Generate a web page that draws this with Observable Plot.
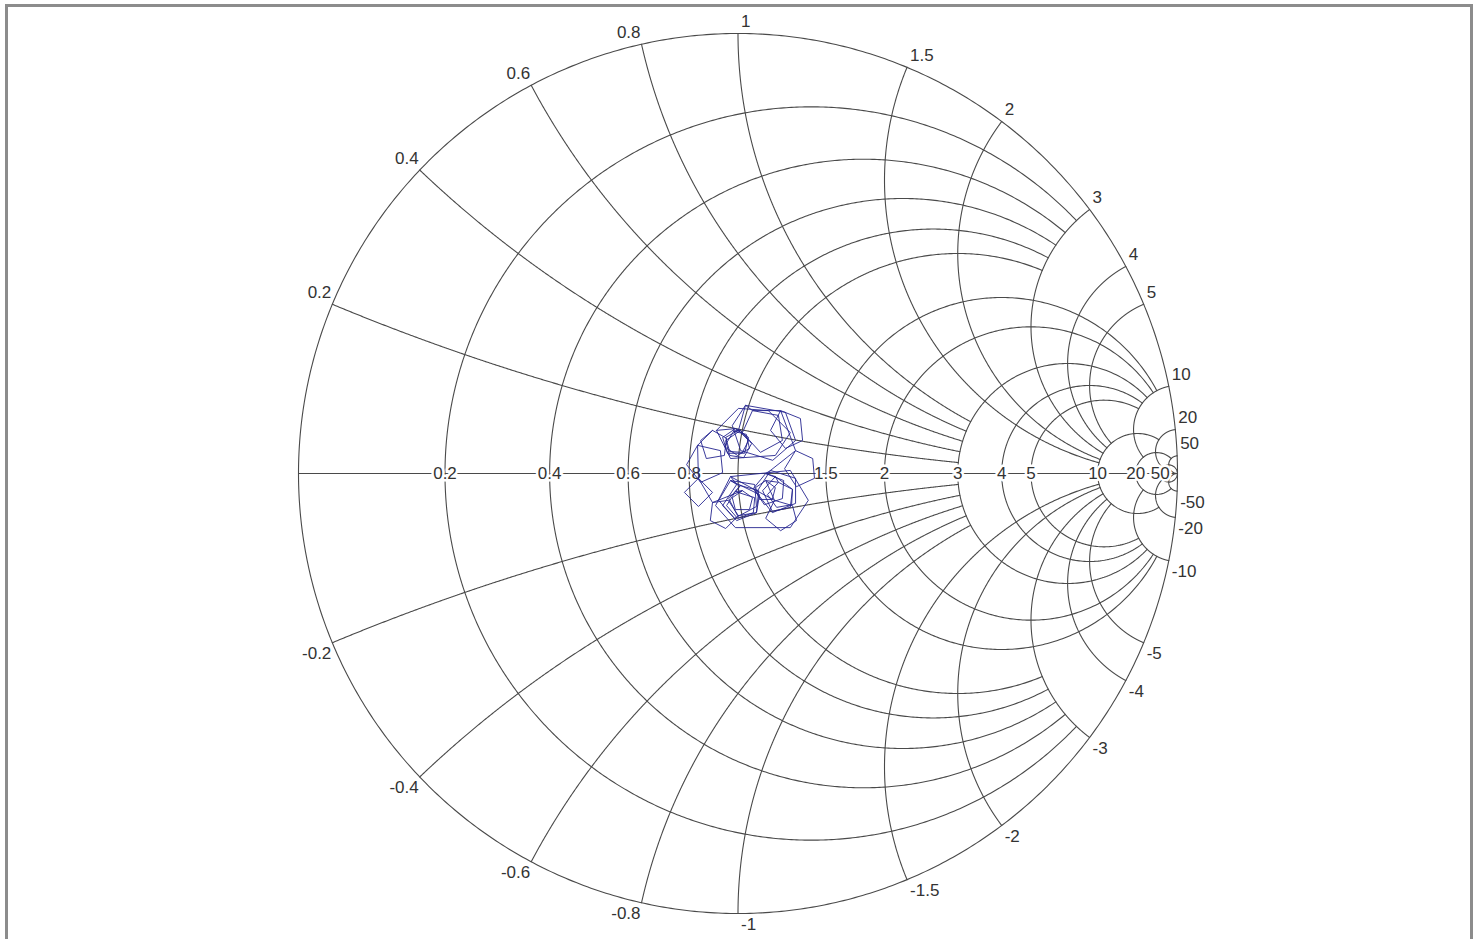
<!DOCTYPE html>
<html><head><meta charset="utf-8">
<script src="https://cdn.jsdelivr.net/npm/d3@7"></script>
<script src="https://cdn.jsdelivr.net/npm/@observablehq/plot@0.6"></script>
<style>
html,body{margin:0;padding:0;background:#fff;}
#wrap{position:relative;width:1479px;height:939px;overflow:hidden;background:#fff;}
#chart{position:absolute;left:0;top:0;}
#frame{position:absolute;left:5px;top:4px;width:1468px;height:1100px;border:3px solid #8c8c8c;box-sizing:border-box;pointer-events:none;}
</style></head><body><div id="wrap"><div id="chart"></div><div id="frame"></div></div>
<script>
// Grid values (normalized resistance / reactance) and where each circle/arc ends
const gridValues = [0.2, 0.4, 0.6, 0.8, 1, 1.5, 2, 3, 4, 5, 10, 20, 50];
const gridEnds   = [3, 3, 3, 3, 3, 10, 10, 10, 10, 10, 20, 50, Infinity];
const resistanceLabels = ["0.2", "0.4", "0.6", "0.8", "", "1.5", "2", "3", "4", "5", "10", "20", "50"];
const reactancePosLabels = ["0.2", "0.4", "0.6", "0.8", "1", "1.5", "2", "3", "4", "5", "10", "20", "50"];
const reactanceNegLabels = ["-0.2", "-0.4", "-0.6", "-0.8", "-1", "-1.5", "-2", "-3", "-4", "-5", "-10", "-20", "-50"];

const traceRe = [
  -0.049, 0.001, 0.069, 0.119, 0.085, -0.017, -0.049,
  -0.006, 0.024, 0.015, -0.024, -0.035, -0.006,
  0.006, 0.031, 0.013, -0.019, -0.028, 0.006,
  -0.010, 0.019, 0.026, -0.001, -0.031, -0.010,
  0.001, 0.024, 0.010, -0.019, -0.028, 0.001,
  0.017, 0.108, 0.131, 0.079, 0.006, -0.013, 0.017,
  0.033, 0.092, 0.101, 0.051, 0.010, 0.033,
  0.097, 0.142, 0.147, 0.108, 0.074, 0.097,
  0.131, 0.170, 0.174, 0.133, 0.106, 0.131,
  0.074, 0.131, 0.131, 0.078, 0.042, 0.074,
  0.063, 0.104, 0.101, 0.060, 0.035, 0.063,
  0.085, 0.124, 0.119, 0.078, 0.056, 0.085,
  0.092, 0.124, 0.122, 0.088, 0.067, 0.092,
  0.063, 0.085, 0.078, 0.049, 0.040, 0.063,
  0.083, 0.124, 0.133, 0.097, 0.063, 0.083,
  -0.017, 0.119, 0.160, 0.119, -0.006, -0.051, -0.017,
  -0.003, 0.047, 0.042, -0.003, -0.035, -0.003,
  -0.017, 0.038, 0.042, -0.008, -0.044, -0.017,
  0.006, 0.049, 0.042, -0.001, -0.021, 0.006,
  -0.006, 0.038, 0.035, -0.001, -0.026, -0.006,
  0.010, 0.033, 0.026, -0.006, -0.013, 0.010,
  -0.058, -0.022, 0.001, -0.028, -0.063, -0.058,
  -0.090, -0.058, -0.090, -0.122, -0.090,
  -0.092, -0.040, -0.035, -0.085, -0.117, -0.092,
  -0.058, -0.026, -0.031, -0.072, -0.085, -0.058
];
const traceIm = [
  0.098, 0.148, 0.143, 0.093, 0.041, 0.034, 0.098,
  0.102, 0.082, 0.046, 0.046, 0.082, 0.102,
  0.098, 0.068, 0.036, 0.041, 0.075, 0.098,
  0.096, 0.089, 0.057, 0.041, 0.061, 0.096,
  0.098, 0.075, 0.048, 0.050, 0.082, 0.098,
  0.155, 0.139, 0.075, 0.030, 0.052, 0.109, 0.155,
  0.143, 0.132, 0.075, 0.048, 0.093, 0.143,
  0.143, 0.125, 0.075, 0.057, 0.098, 0.143,
  0.052, 0.034, -0.011, -0.030, 0.011, 0.052,
  0.007, -0.011, -0.068, -0.089, -0.043, 0.007,
  0.000, -0.016, -0.057, -0.071, -0.034, 0.000,
  -0.007, -0.036, -0.077, -0.086, -0.039, -0.007,
  -0.020, -0.036, -0.071, -0.077, -0.048, -0.020,
  -0.016, -0.032, -0.059, -0.059, -0.032, -0.016,
  -0.061, -0.073, -0.107, -0.130, -0.102, -0.061,
  -0.007, 0.007, -0.061, -0.123, -0.123, -0.073, -0.007,
  -0.025, -0.039, -0.089, -0.107, -0.073, -0.025,
  -0.016, -0.025, -0.075, -0.102, -0.061, -0.016,
  -0.027, -0.048, -0.089, -0.096, -0.057, -0.027,
  -0.041, -0.055, -0.089, -0.102, -0.073, -0.041,
  -0.039, -0.055, -0.082, -0.082, -0.055, -0.039,
  -0.066, -0.061, -0.096, -0.125, -0.107, -0.066,
  -0.011, -0.043, -0.075, -0.043, -0.011,
  0.064, 0.052, 0.002, -0.020, 0.020, 0.064,
  0.098, 0.080, 0.041, 0.034, 0.075, 0.098
];

// Smith-chart mapping z = r + jx -> reflection coefficient
function gamma(r, x) {
  const den = (r + 1) * (r + 1) + x * x;
  return [(r * r + x * x - 1) / den, (2 * x) / den];
}
const N = 700;
const grid = [];
for (let i = 0; i <= N; i++) {
  const t = (2 * Math.PI * i) / N;
  grid.push({id: "outer", re: Math.cos(t), im: Math.sin(t)});
}
grid.push({id: "axis", re: -1, im: 0}, {id: "axis", re: 1, im: 0});
gridValues.forEach((v, k) => {
  const pmax = Math.atan(gridEnds[k]);
  // constant-resistance circle r = v, for |x| <= end
  for (let i = 0; i <= N; i++) {
    const phi = -pmax + (2 * pmax * i) / N;
    const x = Math.tan(phi);
    const [re, im] = Math.abs(x) < 1e7 ? gamma(v, x) : [1, 0];
    grid.push({id: "r" + v, re, im});
  }
  // constant-reactance arcs x = ±v, for r <= end
  [v, -v].forEach(x => {
    for (let i = 0; i <= N; i++) {
      const r = Math.tan((pmax * i) / N);
      const [re, im] = r < 1e7 ? gamma(r, x) : [1, 0];
      grid.push({id: "x" + x, re, im});
    }
  });
});

const trace = traceRe.map((re, i) => ({re, im: traceIm[i]}));
const rLab = gridValues.map((r, i) => ({re: (r - 1) / (r + 1), im: 0, t: resistanceLabels[i]})).filter(d => d.t);
const xLab = [];
gridValues.forEach((v, i) => {
  const [re, im] = gamma(0, v);
  xLab.push({re, im, t: reactancePosLabels[i], pos: true});
  xLab.push({re, im: -im, t: reactanceNegLabels[i], pos: false});
});

const font = "'Liberation Sans', Arial, Helvetica, sans-serif";
const lab = {x: "re", y: "im", text: "t", fontSize: 17, fill: "#333", lineAnchor: "middle"};
const chart = Plot.plot({
  width: 1479, height: 939,
  marginLeft: 298, marginRight: 302, marginTop: 33, marginBottom: 26,
  x: {domain: [-1, 1], axis: null},
  y: {domain: [-1, 1], axis: null},
  style: {fontFamily: font, background: "transparent"},
  marks: [
    Plot.line(grid, {x: "re", y: "im", z: "id", stroke: "#4a4a4a", strokeWidth: 1.1}),
    Plot.text(rLab, {...lab, stroke: "white", strokeWidth: 5, textAnchor: "middle"}),
    Plot.text(xLab.filter(d => d.pos && d.re < 0), {...lab, textAnchor: "end", dx: -1, dy: -12}),
    Plot.text(xLab.filter(d => d.pos && d.re >= 0), {...lab, textAnchor: "start", dx: 3, dy: -12}),
    Plot.text(xLab.filter(d => !d.pos && d.re < 0), {...lab, textAnchor: "end", dx: -1, dy: 11}),
    Plot.text(xLab.filter(d => !d.pos && d.re >= 0), {...lab, textAnchor: "start", dx: 3, dy: 11}),
    Plot.line(trace, {x: "re", y: "im", stroke: "#262690", strokeWidth: 1, strokeOpacity: 0.9})
  ]
});
document.getElementById("chart").appendChild(chart);
</script>
</body></html>
